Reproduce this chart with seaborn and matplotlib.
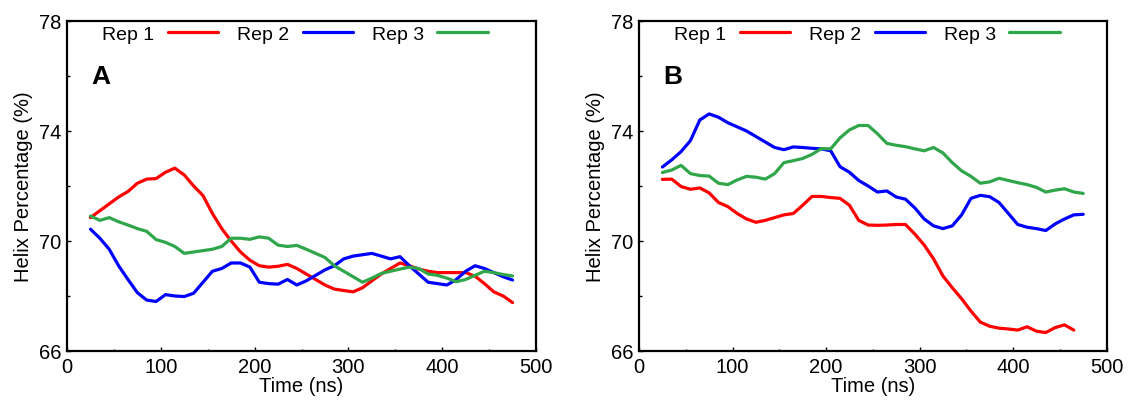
import numpy as np
import pandas as pd
import matplotlib
matplotlib.use('Agg')
import matplotlib.pyplot as plt
import seaborn as sns

sns.set_style('white')
plt.rcParams['font.family'] = ['Liberation Sans', 'DejaVu Sans']
plt.rcParams['text.color'] = 'black'
plt.rcParams['axes.labelcolor'] = 'black'
plt.rcParams['xtick.color'] = 'black'
plt.rcParams['ytick.color'] = 'black'

# time axis (ns), sampled every 10 ns
time_ns = list(range(25, 476, 10))

# Panel A
a_rep1 = [70.85, 71.1, 71.35, 71.6, 71.8, 72.1, 72.25, 72.27, 72.5, 72.65,
          72.4, 72.0, 71.65, 71.0, 70.45, 70.0, 69.6, 69.3, 69.1, 69.05,
          69.08, 69.15, 69.0, 68.8, 68.6, 68.4, 68.25, 68.2, 68.15, 68.3,
          68.55, 68.8, 69.0, 69.2, 69.1, 68.98, 68.9, 68.85, 68.85, 68.85,
          68.85, 68.72, 68.45, 68.15, 68.0, 67.76]
a_rep2 = [70.43, 70.1, 69.7, 69.1, 68.6, 68.12, 67.85, 67.8, 68.05, 68.0,
          67.98, 68.1, 68.5, 68.9, 69.0, 69.2, 69.2, 69.05, 68.5, 68.45,
          68.43, 68.6, 68.4, 68.55, 68.75, 68.95, 69.1, 69.35, 69.45, 69.5,
          69.55, 69.45, 69.35, 69.43, 69.1, 68.8, 68.5, 68.45, 68.4, 68.6,
          68.9, 69.1, 69.0, 68.85, 68.7, 68.58]
a_rep3 = [70.91, 70.75, 70.85, 70.7, 70.58, 70.45, 70.35, 70.05, 69.95, 69.8,
          69.55, 69.6, 69.65, 69.7, 69.8, 70.1, 70.1, 70.06, 70.15, 70.1,
          69.85, 69.8, 69.84, 69.7, 69.55, 69.4, 69.1, 68.9, 68.7, 68.5,
          68.65, 68.82, 68.9, 68.98, 69.05, 69.0, 68.8, 68.75, 68.65, 68.52,
          68.6, 68.75, 68.9, 68.85, 68.78, 68.73]

# Panel B (rep 1 stops before 475 ns)
b_rep1 = [72.24, 72.25, 71.98, 71.88, 71.93, 71.75, 71.4, 71.25, 71.0, 70.8,
          70.68, 70.75, 70.85, 70.95, 71.0, 71.3, 71.62, 71.62, 71.58, 71.55,
          71.3, 70.75, 70.58, 70.57, 70.58, 70.6, 70.6, 70.25, 69.85, 69.35,
          68.73, 68.3, 67.9, 67.45, 67.05, 66.9, 66.83, 66.8, 66.76, 66.88,
          66.72, 66.67, 66.85, 66.95, 66.76, np.nan]
b_rep2 = [72.69, 72.95, 73.25, 73.65, 74.4, 74.62, 74.5, 74.3, 74.15, 74.0,
          73.8, 73.6, 73.4, 73.32, 73.42, 73.4, 73.37, 73.35, 73.28, 72.7,
          72.5, 72.2, 72.0, 71.78, 71.82, 71.6, 71.52, 71.2, 70.8, 70.55,
          70.45, 70.55, 70.95, 71.55, 71.66, 71.61, 71.4, 71.0, 70.6, 70.5,
          70.45, 70.38, 70.62, 70.8, 70.95, 70.97]
b_rep3 = [72.49, 72.58, 72.75, 72.45, 72.38, 72.36, 72.1, 72.05, 72.22, 72.35,
          72.32, 72.25, 72.45, 72.85, 72.92, 73.0, 73.15, 73.36, 73.35, 73.75,
          74.04, 74.2, 74.2, 73.9, 73.55, 73.48, 73.43, 73.35, 73.28, 73.4,
          73.2, 72.85, 72.55, 72.35, 72.1, 72.15, 72.28, 72.2, 72.12, 72.05,
          71.95, 71.78, 71.85, 71.9, 71.78, 71.73]

rep_labels = ['Rep 1', 'Rep 2', 'Rep 3']
rep_colors = ['#ff0000', '#0000ff', '#2fa64a']
panels = [('A', [a_rep1, a_rep2, a_rep3]), ('B', [b_rep1, b_rep2, b_rep3])]
x_major = [0, 100, 200, 300, 400, 500]
x_minor = [50, 150, 250, 350, 450]
y_major = [66, 70, 74, 78]
y_minor = [68, 72, 76]

fig = plt.figure(figsize=(11.28, 4.02), dpi=100)
ax_a = fig.add_axes([0.0594, 0.1244, 0.4158, 0.8209])
ax_b = fig.add_axes([0.5665, 0.1244, 0.4145, 0.8209])

for ax, (tag, series) in zip([ax_a, ax_b], panels):
    for lab, col, vals in zip(rep_labels, rep_colors, series):
        df = pd.DataFrame({'time': time_ns, 'helix': vals}).dropna()
        sns.lineplot(data=df, x='time', y='helix', color=col, lw=2.3, label=lab, ax=ax)

    ax.set_xlim(0, 500)
    ax.set_ylim(66, 78)
    ax.set_xticks(x_major)
    ax.set_xticks(x_minor, minor=True)
    ax.set_yticks(y_major)
    ax.set_yticks(y_minor, minor=True)
    ax.tick_params(which='both', direction='in', bottom=True, left=True,
                   top=False, right=False, labelsize=14.5, pad=4, width=1)
    ax.tick_params(which='major', length=3)
    ax.tick_params(which='minor', length=1.8)
    for sp in ax.spines.values():
        sp.set_color('black')
        sp.set_linewidth(1.6)

    ax.set_xlabel('Time (ns)', fontsize=14.5, labelpad=0)
    ax.set_ylabel('Helix Percentage (%)', fontsize=14.5, labelpad=4)
    ax.text(0.051, 0.833, tag, transform=ax.transAxes, fontsize=19,
            fontweight='bold', va='center', ha='left')

    ax.legend(loc='center left', bbox_to_anchor=(0.075, 0.96), ncol=3,
              frameon=False, markerfirst=False, fontsize=14, borderpad=0,
              handlelength=2.6, handletextpad=0.7, columnspacing=0.95,
              borderaxespad=0)

fig.savefig('out.png', dpi=100)
